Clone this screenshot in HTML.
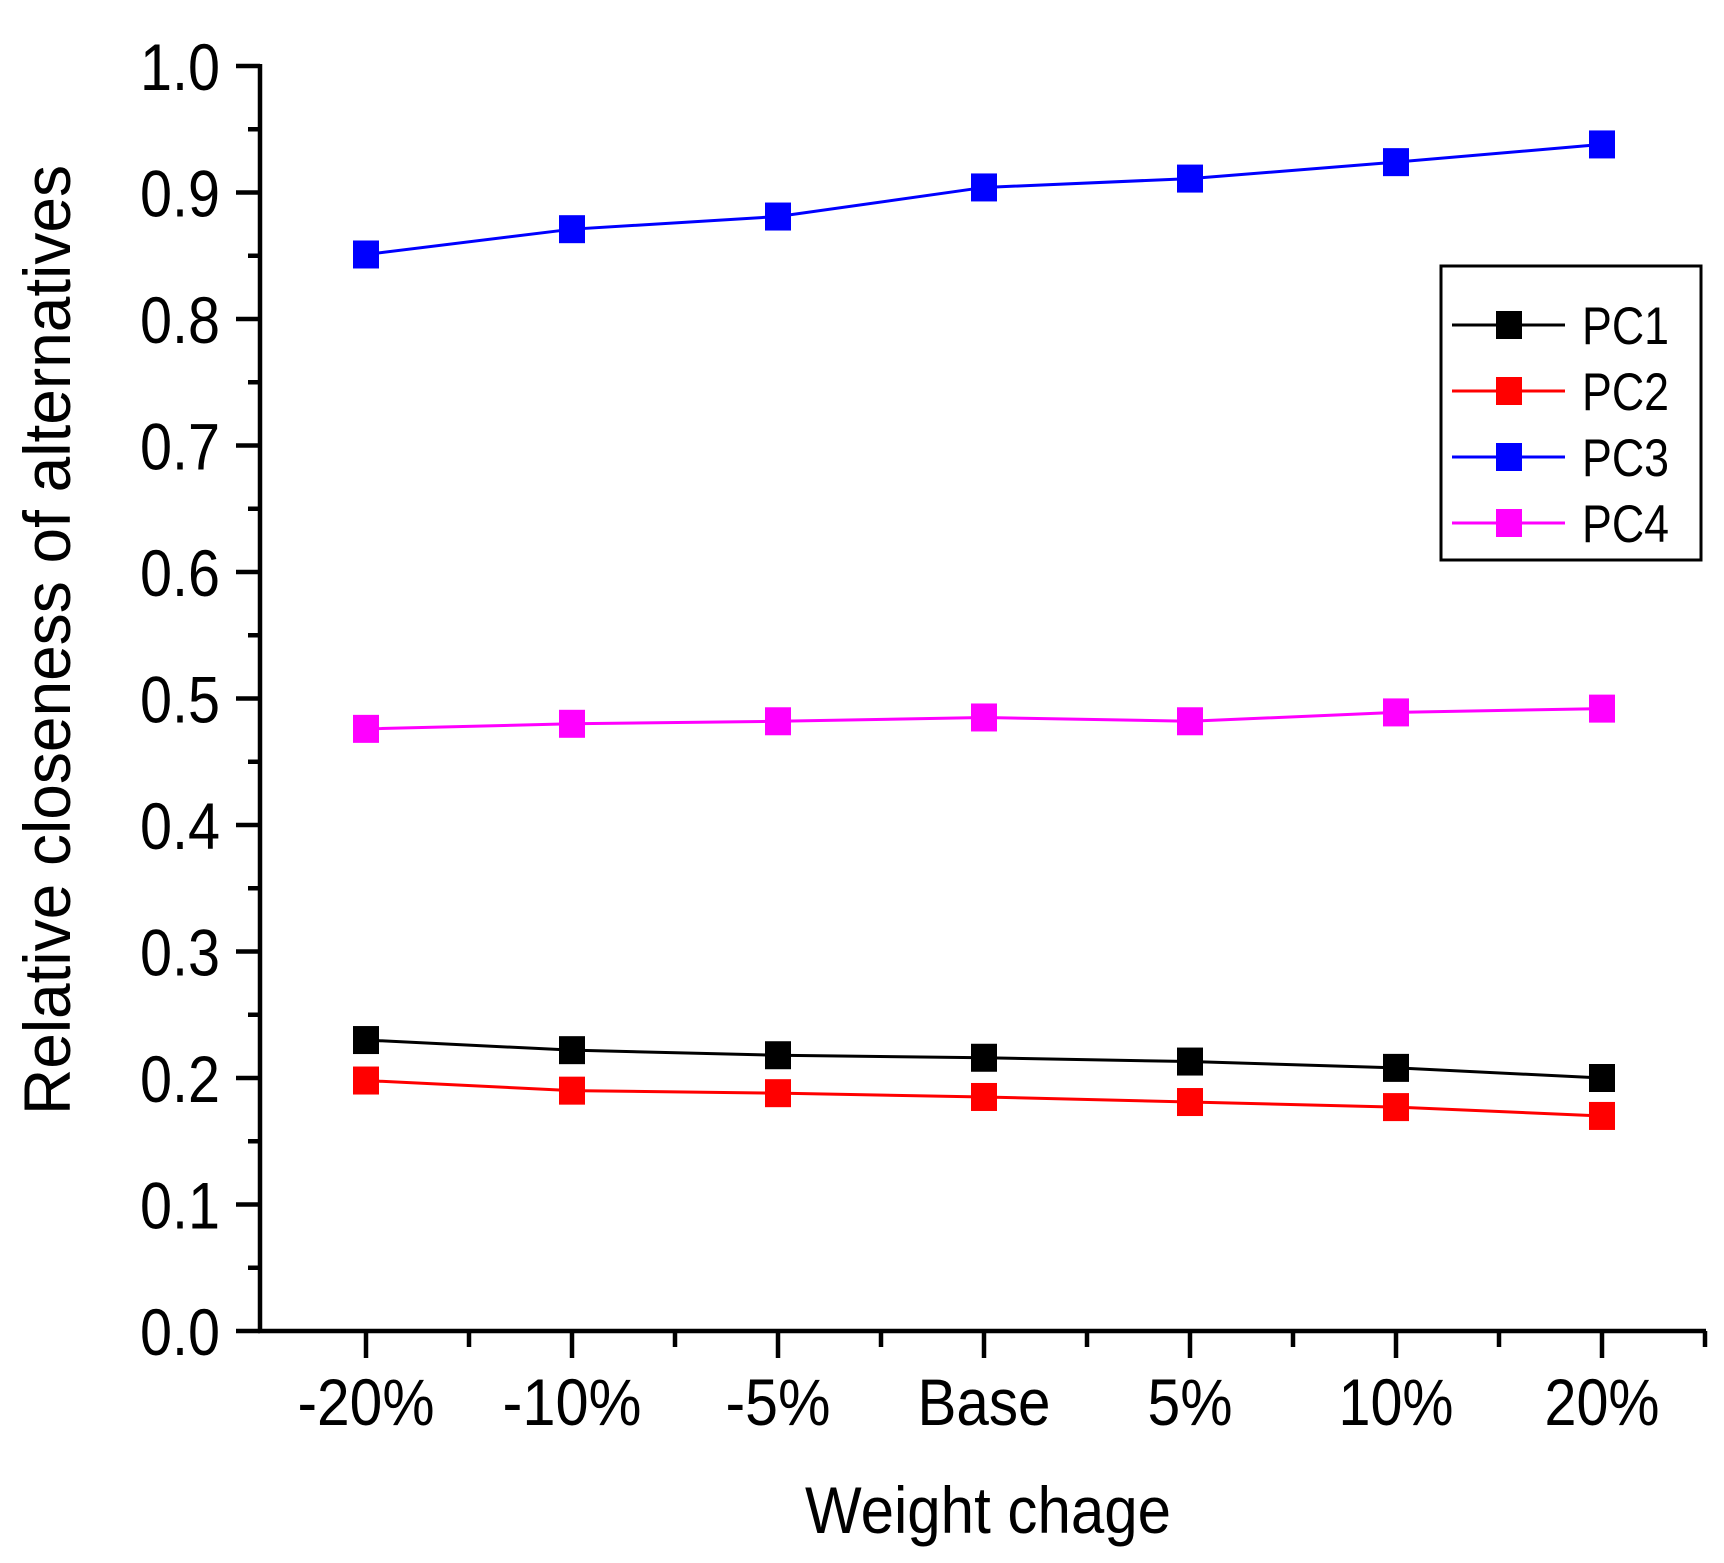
<!DOCTYPE html>
<html><head><meta charset="utf-8"><style>
html,body{margin:0;padding:0;background:#fff}
svg{display:block}
text{font-family:"Liberation Sans",Arial,sans-serif;fill:#000}
</style></head><body>
<svg id="chart" width="1724" height="1563" viewBox="0 0 1724 1563" xmlns="http://www.w3.org/2000/svg">
<g id="axes"></g>
<g id="series"></g>
<g id="legend"></g>
<text x="988" y="1533" font-size="66" text-anchor="middle" textLength="366" lengthAdjust="spacingAndGlyphs">Weight chage</text>
<text transform="translate(70,640) rotate(-90)" font-size="66" text-anchor="middle" textLength="950" lengthAdjust="spacingAndGlyphs">Relative closeness of alternatives</text>
</svg>
<script>
const categories = ["-20%","-10%","-5%","Base","5%","10%","20%"];
const seriesNames = ["PC1","PC2","PC3","PC4"];
const seriesColors = ["#000000","#ff0000","#0000ff","#ff00ff"];
const pc1 = [0.230,0.222,0.218,0.216,0.213,0.208,0.200];
const pc2 = [0.198,0.190,0.188,0.185,0.181,0.177,0.170];
const pc3 = [0.851,0.871,0.881,0.904,0.911,0.924,0.938];
const pc4 = [0.476,0.480,0.482,0.485,0.482,0.489,0.492];
const yTicks = ["0.0","0.1","0.2","0.3","0.4","0.5","0.6","0.7","0.8","0.9","1.0"];

const NS = "http://www.w3.org/2000/svg";
const X0 = 260, X1 = 1706, Y0 = 1331, Y1 = 66;
const labelW = {"-20%":137,"-10%":139,"-5%":105,"Base":133,"5%":85,"10%":115,"20%":115};
function xPos(i){ return 366 + i*206; }
function yPos(v){ return Y0 - (v/1.0)*(Y0-Y1); }
function mk(tag, attrs, parent){ const e=document.createElementNS(NS,tag); for(const k in attrs) e.setAttribute(k,attrs[k]); parent.appendChild(e); return e; }

const axes = document.getElementById('axes');
let l = mk('line',{x1:X0,y1:Y1-2,x2:X0,y2:Y0+2,stroke:'#000','stroke-width':4.5},axes);


l = mk('line',{x1:X0-2,y1:Y0,x2:X1,y2:Y0,stroke:'#000','stroke-width':4.5},axes);


yTicks.forEach((t,i)=>{
  const v = parseFloat(t), y = yPos(v);
  const tk = mk('line',{x1:X0-24,y1:y,x2:X0,y2:y,stroke:'#000','stroke-width':4.5},axes);
  
  
  if(i<yTicks.length-1){
    const m = mk('line',{x1:X0-12,y1:yPos(v+0.05),x2:X0,y2:yPos(v+0.05),stroke:'#000','stroke-width':4.5},axes);
    
    
  }
  const tx = mk('text',{x:220,y:y+24,'font-size':66,'text-anchor':'end',textLength:80,lengthAdjust:'spacingAndGlyphs'},axes);
  tx.textContent = t;
  
  
});
categories.forEach((c,i)=>{
  const x = xPos(i);
  const tk = mk('line',{x1:x,y1:Y0,x2:x,y2:Y0+27,stroke:'#000','stroke-width':4.5},axes);
  
  
  const m = mk('line',{x1:x+103,y1:Y0,x2:x+103,y2:Y0+16,stroke:'#000','stroke-width':4.5},axes);
  
  
  const tx = mk('text',{x:x,y:1425,'font-size':66,'text-anchor':'middle',textLength:labelW[c]||100,lengthAdjust:'spacingAndGlyphs'},axes);
  tx.textContent = c;
  
  
});

const series = document.getElementById('series');
[pc1,pc2,pc3,pc4].forEach((vals,s)=>{
  const g = mk('g',{},series);
  
  
  const pl = mk('polyline',{points:vals.map((v,i)=>xPos(i)+','+yPos(v)).join(' '),fill:'none',stroke:seriesColors[s],'stroke-width':3},g);
  
  
  vals.forEach((v,i)=>{
    const r = mk('rect',{x:xPos(i)-13,y:yPos(v)-14,width:26,height:28,fill:seriesColors[s]},g);
    
    
  });
});

const legend = document.getElementById('legend');
const box = mk('rect',{x:1441,y:266,width:260,height:294,fill:'#fff',stroke:'#000','stroke-width':3},legend);


seriesNames.forEach((n,i)=>{
  const y = 325 + i*66;
  const g = mk('g',{},legend);
  
  
  mk('line',{x1:1452,y1:y,x2:1565,y2:y,stroke:seriesColors[i],'stroke-width':3},g);
  mk('rect',{x:1496,y:y-14,width:26,height:28,fill:seriesColors[i]},g);
  const t = mk('text',{x:1582,y:y+19,'font-size':53,textLength:87,lengthAdjust:'spacingAndGlyphs'},g);
  t.textContent = n;
});
</script>
</body></html>
